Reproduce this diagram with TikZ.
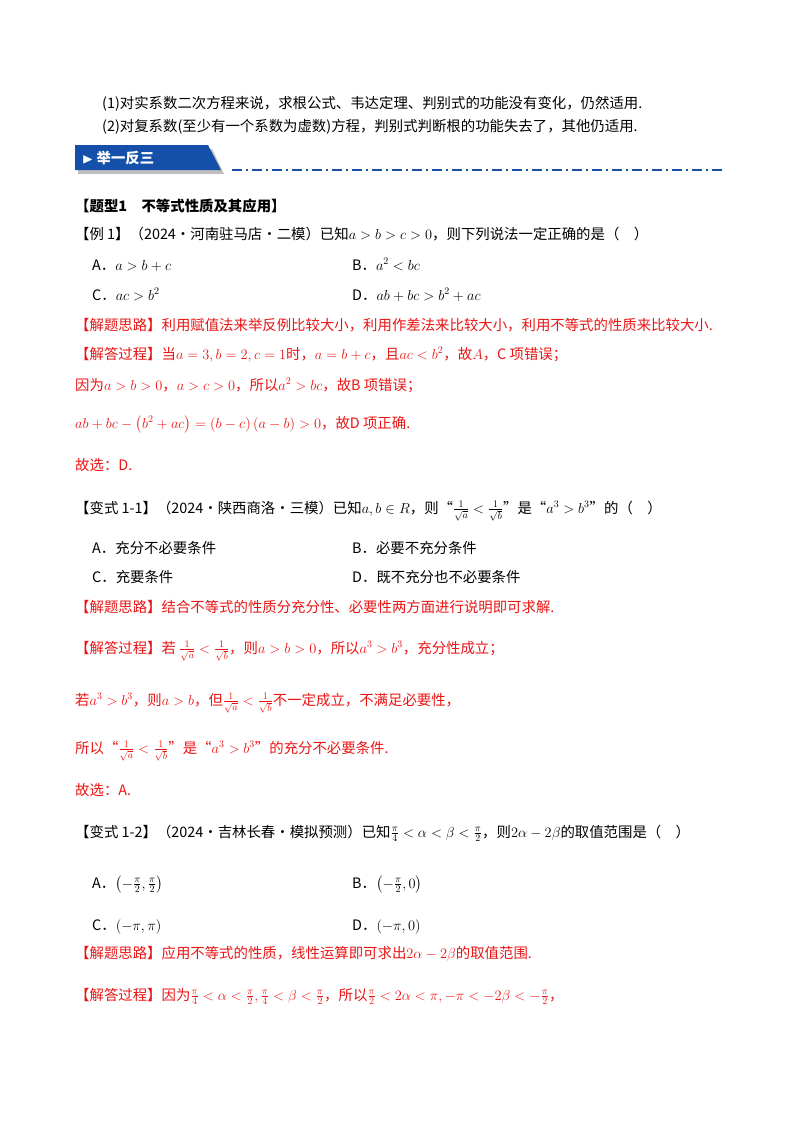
\documentclass[tikz,border=0pt]{standalone}
\usepackage{fontspec}
\usepackage{amsmath,amssymb}
\setmainfont{Liberation Serif}
\newfontfamily\cjk{Noto Sans CJK SC}
\definecolor{bl}{RGB}{20,80,170}
\definecolor{rd}{RGB}{235,20,20}
\begin{document}
\begin{tikzpicture}[x=1pt,y=-1pt,
  t/.style={anchor=base west,inner sep=0pt,font=\cjk\Large},
  r/.style={t,text=rd}]
\useasboundingbox (0,0) rectangle (800,1132);
\node[t] (l1) at (102,108) {(1)对实系数二次方程来说，求根公式、韦达定理、判别式的功能没有变化，仍然适用.};
\node[t] (l2) at (102,131) {(2)对复系数(至少有一个系数为虚数)方程，判别式判断根的功能失去了，其他仍适用.};
\fill[gray!50] (78,149) -- (212,149) -- (224,174) -- (78,174) -- cycle;
\fill[bl] (75,145) -- (208,145) -- (221,170) -- (75,170) -- cycle;
\node[t,text=white,font=\cjk\bfseries\Large] (ban) at (82,163) {$\blacktriangleright$ 举一反三};
\draw[bl,line width=1.2pt,dash pattern=on 10pt off 4pt on 2pt off 4pt] (232,170) -- (725,170);
\node[t,font=\cjk\bfseries\Large] (h) at (75,211) {【题型1\quad 不等式性质及其应用】};
\node[t] (e1) at (75,239) {【例 1】（2024·河南驻马店·二模）已知$a>b>c>0$，则下列说法一定正确的是（\quad ）};
\node[t] (a1) at (92,270) {A．$a>b+c$};
\node[t] (b1) at (352,270) {B．$a^2<bc$};
\node[t] (c1) at (92,300) {C．$ac>b^2$};
\node[t] (d1) at (352,300) {D．$ab+bc>b^2+ac$};
\node[r] (s1) at (75,330) {【解题思路】利用赋值法来举反例比较大小，利用作差法来比较大小，利用不等式的性质来比较大小.};
\node[r] (p1) at (75,359) {【解答过程】当$a=3,b=2,c=1$时，$a=b+c$，且$ac<b^2$，故$A$，C 项错误；};
\node[r] (p2) at (75,390) {因为$a>b>0$，$a>c>0$，所以$a^2>bc$，故B 项错误；};
\node[r] (p3) at (75,428) {$ab+bc-\left(b^2+ac\right)=\left(b-c\right)\left(a-b\right)>0$，故D 项正确.};
\node[r] (p4) at (75,470) {故选：D.};
\node[t] (v1) at (75,513) {【变式 1-1】（2024·陕西商洛·三模）已知$a,b\in R$，则“$\frac{1}{\sqrt a}<\frac{1}{\sqrt b}$”是“$a^3>b^3$”的（\quad ）};
\node[t] (a2) at (92,553) {A．充分不必要条件};
\node[t] (b2) at (352,553) {B．必要不充分条件};
\node[t] (c2) at (92,582) {C．充要条件};
\node[t] (d2) at (352,582) {D．既不充分也不必要条件};
\node[r] (s2) at (75,612) {【解题思路】结合不等式的性质分充分性、必要性两方面进行说明即可求解.};
\node[r] (q1) at (75,653) {【解答过程】若\ $\frac{1}{\sqrt a}<\frac{1}{\sqrt b}$，则$a>b>0$，所以$a^3>b^3$，充分性成立；};
\node[r] (q2) at (75,705) {若$a^3>b^3$，则$a>b$，但$\frac{1}{\sqrt a}<\frac{1}{\sqrt b}$不一定成立，不满足必要性，};
\node[r] (q3) at (75,753) {所以“$\frac{1}{\sqrt a}<\frac{1}{\sqrt b}$”是“$a^3>b^3$”的充分不必要条件.};
\node[r] (q4) at (75,795) {故选：A.};
\node[t] (v2) at (75,837) {【变式 1-2】（2024·吉林长春·模拟预测）已知$\frac{\pi}{4}<\alpha<\beta<\frac{\pi}{2}$，则$2\alpha-2\beta$的取值范围是（\quad ）};
\node[t] (a3) at (92,888) {A．$\left(-\frac{\pi}{2},\frac{\pi}{2}\right)$};
\node[t] (b3) at (352,888) {B．$\left(-\frac{\pi}{2},0\right)$};
\node[t] (c3) at (92,930) {C．$\left(-\pi,\pi\right)$};
\node[t] (d3) at (352,930) {D．$\left(-\pi,0\right)$};
\node[r] (s3) at (75,958) {【解题思路】应用不等式的性质，线性运算即可求出$2\alpha-2\beta$的取值范围.};
\node[r] (w1) at (75,1000) {【解答过程】因为$\frac{\pi}{4}<\alpha<\frac{\pi}{2},\frac{\pi}{4}<\beta<\frac{\pi}{2}$，所以$\frac{\pi}{2}<2\alpha<\pi,-\pi<-2\beta<-\frac{\pi}{2}$，};
\end{tikzpicture}
\end{document}
